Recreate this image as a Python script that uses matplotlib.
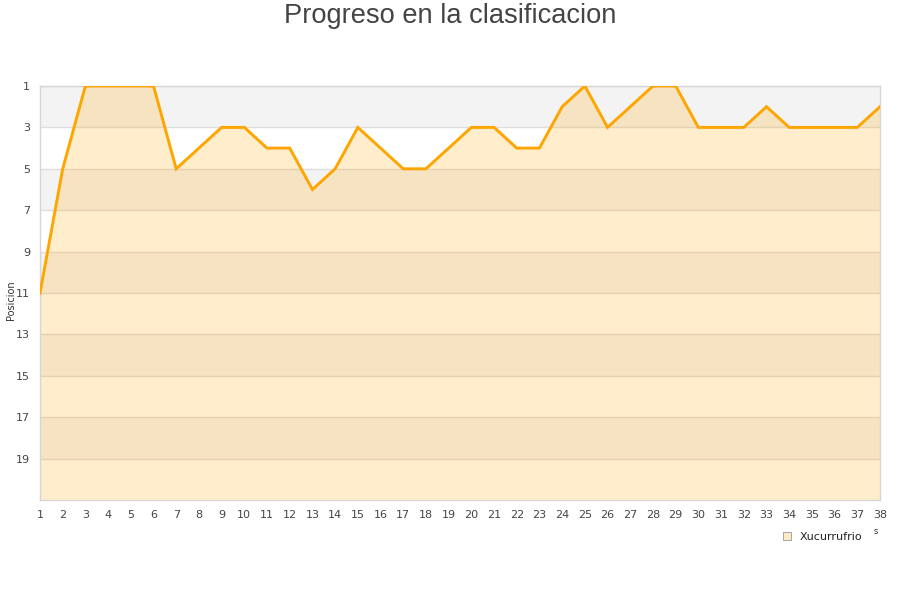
import matplotlib
matplotlib.use("Agg")
import matplotlib.pyplot as plt
from matplotlib.lines import Line2D

jornadas = list(range(1, 39))
posiciones = [11, 5, 1, 1, 1, 1, 5, 4, 3, 3, 4, 4, 6, 5, 3, 4, 5, 5, 4, 3,
              3, 4, 4, 2, 1, 3, 2, 1, 1, 3, 3, 3, 2, 3, 3, 3, 3, 2]
y_ticks = [1, 3, 5, 7, 9, 11, 13, 15, 17, 19]
serie = "Xucurrufrio"
titulo = "Progreso en la clasificacion"
y_label = "Posicion"

fig = plt.figure(figsize=(9, 6), dpi=100)
ax = fig.add_axes([40/900, 100/600, 840/900, 414/600])

ax.set_xlim(1, 38)
ax.set_ylim(21, 1)

# alternating bands
for lo in [1, 5, 9, 13, 17]:
    ax.axhspan(lo, lo + 2, color="#f3f3f3", zorder=0, lw=0)
for yt in y_ticks:
    ax.axhline(yt, color="#dedede", lw=1, zorder=1)

ax.fill_between(jornadas, posiciones, 21, color="#ffa500", alpha=0.2, lw=0, zorder=2)
ax.plot(jornadas, posiciones, color="#ffa500", lw=2.1, zorder=3, solid_joinstyle="miter")

ax.set_xticks(jornadas)
ax.set_xticklabels([str(j) for j in jornadas])
ax.set_yticks(y_ticks)
ax.tick_params(axis="both", length=0, labelsize=8, colors="#444444")
ax.tick_params(axis="x", pad=7)
ax.tick_params(axis="y", pad=7)
for s in ax.spines.values():
    s.set_color("#d6d6d6")
    s.set_linewidth(1)

fig.text(0.5, 1 - 16/600, titulo, ha="center", va="center", fontsize=19.6,
         color="#444444", family="Liberation Sans")
fig.text(11/900, 0.5, y_label, rotation=90, ha="center", va="center",
         fontsize=7, color="#333333")

# legend
handle = Line2D([], [], marker="s", linestyle="none", markersize=6,
                markerfacecolor="#fde9c4", markeredgecolor="#999999", markeredgewidth=0.6)
leg = fig.legend([handle], [serie], loc="center", bbox_to_anchor=(822/900, 1 - 537/600),
                 frameon=False, fontsize=8, handletextpad=0.6, handlelength=1.0)
for t in leg.get_texts():
    t.set_color("#222222")
fig.text(876/900, 1 - 531/600, "s", ha="center", va="center", fontsize=6, color="#333333")

fig.savefig("out.png", dpi=100, facecolor="white")
